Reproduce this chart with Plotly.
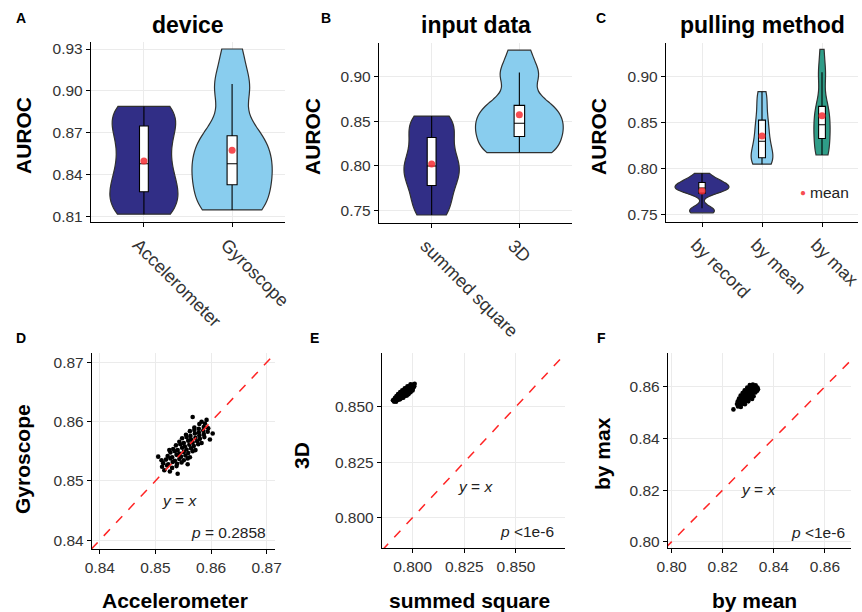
import numpy as np
import plotly.graph_objects as go

W, H = 862, 612
FONT = "Liberation Sans, Arial, Helvetica, sans-serif"

# ---------------- data ----------------
# Panel A: device
device_cats = ["Accelerometer", "Gyroscope"]
auroc_accelerometer = [0.812, 0.814, 0.819, 0.828, 0.832, 0.840, 0.848,
                       0.858, 0.866, 0.875, 0.882, 0.886, 0.889]
auroc_gyroscope = [0.815, 0.816, 0.820, 0.833, 0.840, 0.845, 0.848,
                   0.862, 0.867, 0.868, 0.900, 0.905, 0.930]
# Panel B: input data
input_cats = ["summed square", "3D"]
auroc_summed_square = [0.745, 0.752, 0.765, 0.778, 0.787, 0.794, 0.800,
                       0.808, 0.818, 0.832, 0.842, 0.850, 0.856]
auroc_3d = [0.815, 0.816, 0.820, 0.833, 0.840, 0.845, 0.848,
            0.862, 0.867, 0.868, 0.900, 0.905, 0.930]
# Panel C: pulling method
pulling_cats = ["by record", "by mean", "by max"]
auroc_by_record = [0.752, 0.754, 0.757, 0.7735, 0.776, 0.778, 0.779,
                   0.780, 0.782, 0.785, 0.786, 0.789, 0.795]
auroc_by_mean = [0.805, 0.806, 0.809, 0.812, 0.818, 0.824, 0.830,
                 0.838, 0.846, 0.853, 0.864, 0.876, 0.884]
auroc_by_max = [0.815, 0.816, 0.820, 0.833, 0.840, 0.845, 0.848,
                0.862, 0.867, 0.868, 0.900, 0.905, 0.930]

# Panel D: bootstrap AUROC, Accelerometer (x) vs Gyroscope (y)
boot_D_accelerometer = [
    0.8516, 0.8526,
    0.8512, 0.8521, 0.8530, 0.8538,
    0.8514, 0.8523, 0.8531, 0.8539, 0.8547,
    0.8519, 0.8527, 0.8535, 0.8543, 0.8551, 0.8558,
    0.8522, 0.8530, 0.8538, 0.8546, 0.8554, 0.8562,
    0.8527, 0.8535, 0.8543, 0.8551, 0.8559, 0.8567,
    0.8532, 0.8540, 0.8548, 0.8556, 0.8564, 0.8572,
    0.8537, 0.8545, 0.8553, 0.8561, 0.8569, 0.8577,
    0.8543, 0.8551, 0.8559, 0.8567, 0.8575, 0.8583,
    0.8548, 0.8556, 0.8564, 0.8572, 0.8580, 0.8588,
    0.8555, 0.8563, 0.8571, 0.8579, 0.8587,
    0.8562, 0.8570, 0.8578, 0.8586, 0.8594,
    0.8570, 0.8578, 0.8587, 0.8595,
    0.8579, 0.8589,
    0.8567, 0.8505, 0.8603, 0.8540, 0.8583,
    0.8525, 0.8598, 0.8558, 0.8511, 0.8592]
boot_D_gyroscope = [
    0.8518, 0.8516,
    0.8524, 0.8526, 0.8522, 0.8525,
    0.8530, 0.8528, 0.8532, 0.8529, 0.8531,
    0.8536, 0.8538, 0.8534, 0.8537, 0.8535, 0.8538,
    0.8542, 0.8540, 0.8544, 0.8541, 0.8543, 0.8540,
    0.8548, 0.8550, 0.8546, 0.8549, 0.8547, 0.8550,
    0.8554, 0.8552, 0.8556, 0.8553, 0.8555, 0.8552,
    0.8560, 0.8562, 0.8558, 0.8561, 0.8559, 0.8562,
    0.8566, 0.8564, 0.8568, 0.8565, 0.8567, 0.8564,
    0.8572, 0.8574, 0.8570, 0.8573, 0.8571, 0.8574,
    0.8578, 0.8576, 0.8580, 0.8577, 0.8579,
    0.8584, 0.8586, 0.8582, 0.8585, 0.8583,
    0.8590, 0.8588, 0.8591, 0.8589,
    0.8596, 0.8597,
    0.8608, 0.8541, 0.8580, 0.8512, 0.8600,
    0.8552, 0.8570, 0.8528, 0.8535, 0.8603]
p_D = "<i>p</i> = 0.2858"

# Panel E: bootstrap AUROC, summed square (x) vs 3D (y)
boot_E_summed_square = [
    0.7910, 0.7920,
    0.7909, 0.7919, 0.7929, 0.7939,
    0.7915, 0.7925, 0.7935, 0.7945, 0.7955,
    0.7922, 0.7932, 0.7942, 0.7952, 0.7962, 0.7972,
    0.7930, 0.7940, 0.7950, 0.7960, 0.7970, 0.7980,
    0.7940, 0.7950, 0.7960, 0.7970, 0.7980, 0.7990,
    0.7950, 0.7960, 0.7970, 0.7980, 0.7990, 0.8000,
    0.7962, 0.7972, 0.7982, 0.7992, 0.8002,
    0.7975, 0.7985, 0.7995, 0.8005,
    0.7990, 0.8002, 0.8010,
    0.7905, 0.8008]
boot_E_3d = [
    0.8523, 0.8522,
    0.8531, 0.8532, 0.8530, 0.8533,
    0.8540, 0.8539, 0.8541, 0.8538, 0.8540,
    0.8548, 0.8550, 0.8547, 0.8549, 0.8548, 0.8550,
    0.8557, 0.8556, 0.8558, 0.8555, 0.8557, 0.8556,
    0.8566, 0.8565, 0.8567, 0.8564, 0.8566, 0.8565,
    0.8574, 0.8575, 0.8573, 0.8576, 0.8574, 0.8573,
    0.8583, 0.8584, 0.8582, 0.8585, 0.8583,
    0.8592, 0.8591, 0.8593, 0.8590,
    0.8601, 0.8600, 0.8603,
    0.8529, 0.8592]
p_E = "<i>p</i> <1e-6"

# Panel F: bootstrap AUROC, by mean (x) vs by max (y)
boot_F_by_mean = [
    0.8260, 0.8271,
    0.8256, 0.8266, 0.8277, 0.8287,
    0.8259, 0.8269, 0.8280, 0.8290, 0.8300,
    0.8264, 0.8274, 0.8285, 0.8295, 0.8305, 0.8315,
    0.8270, 0.8280, 0.8291, 0.8301, 0.8311, 0.8321,
    0.8278, 0.8288, 0.8298, 0.8308, 0.8318, 0.8328,
    0.8286, 0.8296, 0.8306, 0.8316, 0.8326, 0.8335,
    0.8296, 0.8306, 0.8316, 0.8326, 0.8336,
    0.8306, 0.8318, 0.8329,
    0.8242, 0.8338]
boot_F_by_max = [
    0.8523, 0.8521,
    0.8533, 0.8531, 0.8534, 0.8532,
    0.8543, 0.8545, 0.8542, 0.8544, 0.8543,
    0.8554, 0.8552, 0.8555, 0.8553, 0.8554, 0.8552,
    0.8565, 0.8563, 0.8566, 0.8564, 0.8565, 0.8563,
    0.8575, 0.8577, 0.8574, 0.8576, 0.8575, 0.8577,
    0.8586, 0.8584, 0.8587, 0.8585, 0.8586, 0.8584,
    0.8596, 0.8597, 0.8595, 0.8598, 0.8596,
    0.8606, 0.8608, 0.8605,
    0.8512, 0.8590]
p_F = "<i>p</i> <1e-6"

# ---------------- styling ----------------
NAVY = "#312e86"
SKY = "#89cdee"
TEAL = "#2f9d88"
MEAN_RED = "rgba(245,45,50,0.85)"
OUTLINE = "#303030"


def dom_x(l, r):
    return [l / W, r / W]


def dom_y(t, b):
    return [1 - b / H, 1 - t / H]


fig = go.Figure()

violin_panels = [
    # (axis suffix, cats, values, colors, widths, box fractions, bandwidths)
    ("", device_cats, [auroc_accelerometer, auroc_gyroscope], [NAVY, SKY],
     [0.77, 0.91], [0.13, 0.125], [0.013, 0.014]),
    ("2", input_cats, [auroc_summed_square, auroc_3d], [NAVY, SKY],
     [0.63, 1.0], [0.16, 0.12], [0.016, 0.014]),
    ("3", pulling_cats, [auroc_by_record, auroc_by_mean, auroc_by_max],
     [NAVY, SKY, TEAL], [0.9, 0.36, 0.27], [0.12, 0.32, 0.42],
     [0.0045, 0.011, 0.014]),
]

for sfx, cats, vals_list, cols, widths, bfr, bws in violin_panels:
    for cat, vals, col, w, bf, bw in zip(cats, vals_list, cols, widths, bfr, bws):
        fig.add_trace(go.Violin(
            x=[cat] * len(vals), y=vals,
            xaxis="x" + sfx, yaxis="y" + sfx,
            fillcolor=col, opacity=1,
            line=dict(color=OUTLINE, width=1.2),
            width=w, scalegroup=sfx + cat, scalemode="width",
            spanmode="hard", bandwidth=bw, points=False,
            quartilemethod="inclusive",
            box=dict(visible=True, width=bf, fillcolor="white",
                     line=dict(color="black", width=1.1)),
            meanline=dict(visible=False),
            showlegend=False, hoverinfo="skip", name=cat,
        ))
    fig.add_trace(go.Scatter(
        x=cats, y=[float(np.mean(v)) for v in vals_list],
        xaxis="x" + sfx, yaxis="y" + sfx, mode="markers",
        marker=dict(color=MEAN_RED, size=7), showlegend=False,
        name="mean", hoverinfo="skip"))

scatter_panels = [
    ("4", boot_D_accelerometer, boot_D_gyroscope, [0.8386, 0.8715], [0.8385, 0.8716], 4.6),
    ("5", boot_E_summed_square, boot_E_3d, [0.7852, 0.8737], [0.7863, 0.8742], 4.6),
    ("6", boot_F_by_mean, boot_F_by_max, [0.7986, 0.8702], [0.7976, 0.8730], 4.6),
]
for sfx, xs, ys, xr, yr, msize in scatter_panels:
    fig.add_trace(go.Scatter(
        x=xs, y=ys, xaxis="x" + sfx, yaxis="y" + sfx, mode="markers",
        marker=dict(color="black", size=msize, line=dict(width=0)),
        showlegend=False, hoverinfo="skip"))
    lo, hi = min(xr[0], yr[0]), max(xr[1], yr[1])
    fig.add_trace(go.Scatter(
        x=[lo, hi], y=[lo, hi], xaxis="x" + sfx, yaxis="y" + sfx, mode="lines",
        line=dict(color="#ff2424", width=1.5, dash="dash"),
        showlegend=False, hoverinfo="skip"))

axis_common = dict(
    automargin=False,
    showline=True, linecolor="black", linewidth=1.4,
    ticks="outside", ticklen=4, tickwidth=1.2, tickcolor="black",
    showgrid=True, gridcolor="#ebebeb", gridwidth=1.1, zeroline=False,
    tickfont=dict(size=15.5, color="#333333", family=FONT),
)

layout_axes = {}
# top row
top = [
    ("", (91, 285), (42, 222), device_cats, [0.8064, 0.935], 0.81, 0.03, ".2f"),
    ("2", (379, 572), (43, 223), input_cats, [0.736, 0.938], 0.75, 0.05, ".2f"),
    ("3", (666, 858), (43, 222), pulling_cats, [0.742, 0.937], 0.75, 0.05, ".2f"),
]
for sfx, xd, yd, cats, yr, t0, dt, fmt in top:
    layout_axes["xaxis" + sfx] = dict(
        axis_common, domain=dom_x(*xd), anchor="y" + sfx, type="category",
        categoryorder="array", categoryarray=cats,
        range=[-0.6, len(cats) - 0.4], tickangle=45, ticklabelshift=-6,
        tickfont=dict(size=18, color="#333333", family=FONT))
    layout_axes["yaxis" + sfx] = dict(
        axis_common, domain=dom_y(*yd), anchor="x" + sfx, range=yr,
        tick0=t0, dtick=dt, tickformat=fmt)

bottom = [
    ("4", (92, 275), (353, 549), [0.8386, 0.8715], [0.8385, 0.8716], 0.84, 0.01, ".2f", 0.84, 0.01, ".2f"),
    ("5", (382, 565), (353, 548), [0.7852, 0.8737], [0.7863, 0.8742], 0.8, 0.025, ".3f", 0.8, 0.025, ".3f"),
    ("6", (668, 851), (353, 548), [0.7986, 0.8702], [0.7976, 0.8730], 0.8, 0.02, ".2f", 0.8, 0.02, ".2f"),
]
for sfx, xd, yd, xr, yr, xt0, xdt, xf, yt0, ydt, yf in bottom:
    layout_axes["xaxis" + sfx] = dict(
        axis_common, domain=dom_x(*xd), anchor="y" + sfx, range=xr,
        tick0=xt0, dtick=xdt, tickformat=xf)
    layout_axes["yaxis" + sfx] = dict(
        axis_common, domain=dom_y(*yd), anchor="x" + sfx, range=yr,
        tick0=yt0, dtick=ydt, tickformat=yf)


def ann(text, x, y, size, color="black", angle=0, xanchor="center",
        yanchor="middle"):
    return dict(text=text, x=x / W, y=1 - y / H, xref="paper", yref="paper",
                showarrow=False, textangle=angle, xanchor=xanchor,
                yanchor=yanchor, font=dict(size=size, color=color, family=FONT))


annotations = [
    # panel titles
    ann("<b>device</b>", 188, 25, 23),
    ann("<b>input data</b>", 476, 25, 23),
    ann("<b>pulling method</b>", 762, 25, 23),
    # panel letters
    ann("<b>A</b>", 21, 18, 14), ann("<b>B</b>", 326, 18, 14),
    ann("<b>C</b>", 601, 18, 14), ann("<b>D</b>", 21, 338, 14),
    ann("<b>E</b>", 314, 338, 14), ann("<b>F</b>", 601, 338, 14),
    # y titles
    ann("<b>AUROC</b>", 23, 136, 21, angle=-90),
    ann("<b>AUROC</b>", 312, 137, 21, angle=-90),
    ann("<b>AUROC</b>", 598, 137, 21, angle=-90),
    ann("<b>Gyroscope</b>", 22, 459, 21, angle=-90),
    ann("<b>3D</b>", 301, 456, 21, angle=-90),
    ann("<b>by max</b>", 602, 454, 21, angle=-90),
    # x titles
    ann("<b>Accelerometer</b>", 175, 600, 21),
    ann("<b>summed square</b>", 470, 600, 21),
    ann("<b>by mean</b>", 754, 600, 21),
    # y = x labels and p values
    ann("<i>y</i> = <i>x</i>", 179, 500, 15.5, color="#222222"),
    ann("<i>y</i> = <i>x</i>", 475, 486, 15.5, color="#222222"),
    ann("<i>y</i> = <i>x</i>", 758, 489, 15.5, color="#222222"),
    ann(p_D, 268, 532, 15.5, color="#222222", xanchor="right"),
    ann(p_E, 556, 531, 15.5, color="#222222", xanchor="right"),
    ann(p_F, 847, 532, 15.5, color="#222222", xanchor="right"),
    # mean legend in panel C
    ann("●", 803, 192, 10, color=MEAN_RED),
    ann("mean", 808, 192, 15.5, color="#222222", xanchor="left"),
]

fig.update_layout(
    width=W, height=H,
    margin=dict(l=0, r=0, t=0, b=0, pad=0, autoexpand=False),
    paper_bgcolor="white", plot_bgcolor="white",
    showlegend=False, violinmode="overlay",
    font=dict(family=FONT, color="#333333"),
    annotations=annotations,
    **layout_axes,
)

fig.write_html("out.html")
